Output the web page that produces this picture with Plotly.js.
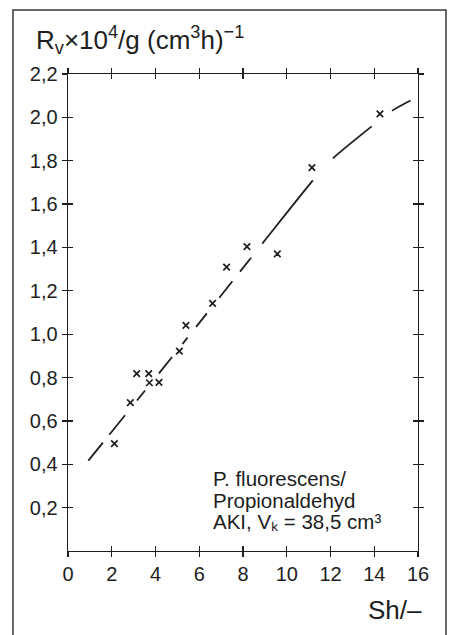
<!DOCTYPE html>
<html>
<head>
<meta charset="utf-8">
<script src="https://cdn.plot.ly/plotly-3.0.1.min.js"></script>
<style>html,body{margin:0;padding:0;background:#fff;}#chart{width:451px;height:635px;}</style>
</head>
<body>
<div id="chart"></div>
<script>
// Measured points (Sh, Rv)
const shValues = [2.12, 2.85, 3.14, 3.69, 3.72, 4.16, 5.09, 5.39, 6.61, 7.25, 8.18, 9.57, 11.15, 14.26];
const rvValues = [0.495, 0.684, 0.818, 0.818, 0.776, 0.778, 0.922, 1.041, 1.142, 1.309, 1.404, 1.370, 1.768, 2.016];
// Fitted (dashed) curve
const curveSh = [0.93, 4.8, 8.9, 11.2, 12.1, 13.9, 14.8, 15.7];
const curveRv = [0.417, 0.90, 1.42, 1.71, 1.81, 1.96, 2.03, 2.08];
// Ticks
const xTickVals = [0, 2, 4, 6, 8, 10, 12, 14, 16];
const xTickLabels = ['0', '2', '4', '6', '8', '10', '12', '14', '16'];
const yTickVals = [0.2, 0.4, 0.6, 0.8, 1.0, 1.2, 1.4, 1.6, 1.8, 2.0, 2.2];
const yTickLabels = ['0,2', '0,4', '0,6', '0,8', '1,0', '1,2', '1,4', '1,6', '1,8', '2,0', '2,2'];
// Texts
const titleText = 'R<sub>v</sub>×10<sup>4</sup>/g (cm<sup>3</sup>h)<sup>−1</sup>';
const xTitleText = 'Sh/–';
const noteLines = ['P. fluorescens/', 'Propionaldehyd', 'AKI, Vₖ = 38,5 cm³'];

const FONT = 'Liberation Sans, Arial, Helvetica, sans-serif';
const INK = '#1e1e1e';

const traces = [
  {
    x: curveSh, y: curveRv, mode: 'lines', type: 'scatter',
    line: {color: INK, width: 1.8, shape: 'spline', smoothing: 0.6,
           dash: '23px,10px,25px,19px,13px,22px,21px,17px,8px,14px,17px,20px,21px,12px,18px,18px,81px,30px,50px,26px,21px,200px'},
    hoverinfo: 'skip', showlegend: false
  },
  {
    x: shValues, y: rvValues, mode: 'markers', type: 'scatter',
    marker: {symbol: 'x-thin', size: 6.5, color: INK, line: {color: INK, width: 1.7}},
    showlegend: false
  },
  {
    x: shValues, y: rvValues, mode: 'markers', type: 'scatter', xaxis: 'x2', yaxis: 'y2',
    marker: {opacity: 0}, hoverinfo: 'skip', showlegend: false
  }
];

const axisCommon = {
  showgrid: false, zeroline: false, linecolor: INK, linewidth: 1.4,
  tickcolor: INK, tickwidth: 1.3, ticklen: 5,
  tickfont: {family: FONT, size: 20, color: INK}
};

const annotations = [
  {text: titleText, xref: 'paper', yref: 'paper', x: (34 - 68) / 350, y: (551 - 40) / 477,
   xanchor: 'left', yanchor: 'middle', showarrow: false, font: {family: FONT, size: 26, color: INK}},
  {text: xTitleText, xref: 'paper', yref: 'paper', x: (424 - 68) / 350, y: (551 - 610) / 477,
   xanchor: 'right', yanchor: 'middle', showarrow: false, font: {family: FONT, size: 26, color: INK}}
];
const noteY = [0.333, 0.235, 0.135];
noteLines.forEach((t, i) => annotations.push({
  text: t, xref: 'x', yref: 'y', x: 6.55, y: noteY[i], xanchor: 'left', yanchor: 'middle',
  showarrow: false, font: {family: FONT, size: 20.5, color: INK}
}));

const layout = {
  width: 451, height: 635,
  margin: {l: 68, r: 33, t: 74, b: 84, pad: 0},
  paper_bgcolor: '#ffffff', plot_bgcolor: '#ffffff',
  font: {family: FONT, color: INK},
  xaxis: Object.assign({}, axisCommon, {range: [0, 16], tickmode: 'array', tickvals: xTickVals, ticktext: xTickLabels,
    ticks: 'outside', showline: true, mirror: 'ticks', fixedrange: true}),
  yaxis: Object.assign({}, axisCommon, {range: [0, 2.2], tickmode: 'array', tickvals: yTickVals, ticktext: yTickLabels,
    ticks: 'outside', showline: true, mirror: 'ticks', fixedrange: true}),
  xaxis2: Object.assign({}, axisCommon, {range: [0, 16], overlaying: 'x', tickmode: 'array', tickvals: xTickVals,
    ticks: 'inside', showline: false, mirror: 'ticks', showticklabels: false, anchor: 'y2'}),
  yaxis2: Object.assign({}, axisCommon, {range: [0, 2.2], overlaying: 'y', tickmode: 'array', tickvals: yTickVals,
    ticks: 'inside', showline: false, mirror: 'ticks', showticklabels: false, anchor: 'x2'}),
  annotations: annotations,
  shapes: [
    {type: 'rect', xref: 'paper', yref: 'paper', x0: (13 - 68) / 350, x1: (446 - 68) / 350,
     y0: (551 - 660) / 477, y1: (551 - 10) / 477, line: {color: '#3a3a3a', width: 1.5}, layer: 'above'}
  ],
  showlegend: false
};

Plotly.newPlot('chart', traces, layout, {staticPlot: true, displayModeBar: false});
</script>
</body>
</html>
